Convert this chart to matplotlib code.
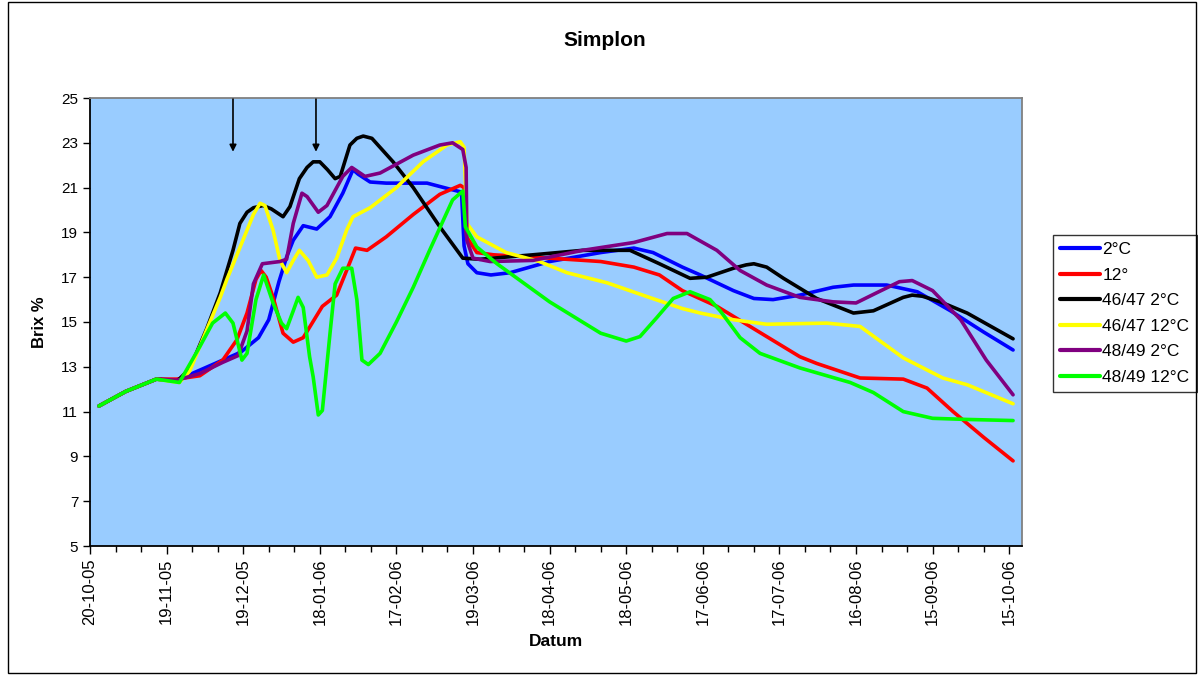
import numpy as np
import matplotlib
matplotlib.use("Agg")
import matplotlib.pyplot as plt
from matplotlib.ticker import MultipleLocator, FuncFormatter
from matplotlib.patches import Rectangle
import datetime as dt

plt.rcParams['font.family'] = ['Liberation Sans', 'DejaVu Sans']

start = dt.date(2005, 10, 20)

# days after 20-10-05, Brix %
blue_d = [3.5, 14, 26, 34, 43, 52, 59, 66, 70, 74, 77, 79.6, 83.5, 88.8, 94, 99, 103, 105, 109.7, 116, 132,
          142, 145.5, 146.5, 148, 151.5, 157, 164.5, 180, 200, 213, 220.5, 232, 239, 252, 260, 267.5, 278,
          291, 299, 312, 324, 337, 350, 361.5]
blue_v = [11.25, 11.9, 12.45, 12.4, 12.85, 13.3, 13.65, 14.3, 15.1, 16.8, 17.9, 18.65, 19.3, 19.15, 19.7,
          20.75, 21.8, 21.6, 21.25, 21.2, 21.2, 20.9, 20.8, 18.4, 17.6, 17.2, 17.1, 17.2, 17.7, 18.1, 18.3,
          18.1, 17.45, 17.1, 16.4, 16.05, 16.0, 16.2, 16.55, 16.65, 16.65, 16.35, 15.5, 14.55, 13.75]

red_d = [3.5, 14, 26, 34, 43, 52, 57.5, 61.5, 65, 67, 69, 71.7, 75.6, 79.6, 83.5, 91, 96.6, 100.5, 104,
         108.5, 116, 126.6, 137, 145, 146.5, 147.5, 151.5, 158, 180, 200, 213, 223, 232, 245.5, 258.5,
         265, 278, 284.6, 301.6, 318.5, 327.8, 338, 350, 361.5]
red_v = [11.25, 11.9, 12.45, 12.45, 12.6, 13.3, 14.2, 15.4, 16.9, 17.3, 17.0, 16.1, 14.5, 14.1, 14.3, 15.7,
         16.2, 17.3, 18.3, 18.2, 18.8, 19.8, 20.7, 21.1, 21.0, 18.8, 18.1, 18.0, 17.85, 17.7, 17.45, 17.1,
         16.4, 15.7, 14.8, 14.35, 13.45, 13.15, 12.5, 12.45, 12.05, 11.0, 9.85, 8.8]

black_d = [3.5, 14, 26, 34, 39, 45.7, 51, 56, 58.7, 61.5, 64, 67.8, 71, 75.6, 78.3, 82, 85, 87.4, 90, 93,
           96, 98, 101.8, 104.5, 107, 110.4, 118.7, 126.6, 137, 146, 152.7, 173.5, 193, 211.5, 223, 235,
           241.6, 252, 257, 260, 265, 271.6, 284.6, 299, 306.8, 318.5, 322, 326, 333, 343.5, 361.5]
black_v = [11.25, 11.9, 12.45, 12.35, 12.9, 14.7, 16.3, 18.2, 19.4, 19.9, 20.1, 20.2, 20.05, 19.7, 20.15,
           21.4, 21.9, 22.15, 22.15, 21.8, 21.4, 21.5, 22.9, 23.2, 23.3, 23.2, 22.15, 21.0, 19.25, 17.85,
           17.8, 18.0, 18.2, 18.2, 17.6, 16.95, 17.0, 17.4, 17.55, 17.6, 17.45, 16.95, 16.05, 15.4, 15.5,
           16.1, 16.2, 16.15, 15.9, 15.4, 14.25]

yellow_d = [3.5, 14, 26, 35, 39, 45.7, 51, 53.6, 61.5, 64, 66.6, 68.5, 71.7, 74.4, 77, 79.6, 82, 85.4,
            88.8, 92.8, 96.6, 100.5, 103, 109.7, 120, 130.4, 139.8, 145, 146.5, 147.6, 151.5, 163, 176,
            186.8, 202.5, 219, 232, 239, 252, 265, 288.6, 301.6, 318.5, 334, 343.5, 361.5]
yellow_v = [11.25, 11.9, 12.45, 12.3, 12.8, 14.65, 16.1, 16.9, 19.1, 19.8, 20.3, 20.2, 19.1, 17.75, 17.2,
            17.75, 18.2, 17.75, 17.0, 17.1, 17.85, 19.1, 19.7, 20.1, 21.0, 22.15, 22.9, 23.05, 22.8, 19.4,
            18.8, 18.1, 17.7, 17.2, 16.75, 16.1, 15.6, 15.4, 15.1, 14.9, 14.95, 14.8, 13.4, 12.5, 12.2, 11.35]

purple_d = [3.5, 14, 26, 34, 43, 52, 58, 61.5, 64, 67.5, 74.4, 77, 79.6, 83, 85, 89.4, 92.8, 99, 102.5,
            107.7, 113.6, 126.6, 137, 142, 146, 147.3, 147.6, 150, 156.7, 173.5, 193, 213, 226, 233.8,
            245.5, 254.6, 265, 278, 291, 300, 308, 317, 322, 330, 341, 351, 361.5]
purple_v = [11.25, 11.9, 12.45, 12.4, 12.7, 13.2, 13.5, 14.6, 16.7, 17.6, 17.7, 17.8, 19.4, 20.75, 20.6,
            19.9, 20.2, 21.5, 21.9, 21.5, 21.65, 22.45, 22.9, 23.0, 22.7, 21.9, 18.65, 17.85, 17.7, 17.75,
            18.2, 18.55, 18.95, 18.95, 18.2, 17.3, 16.65, 16.1, 15.9, 15.85, 16.3, 16.8, 16.85, 16.4, 15.1,
            13.3, 11.75]

green_d = [3.5, 14, 26, 35, 43, 48, 53, 56, 59.5, 61.5, 65, 68, 71.7, 75, 77, 79.6, 81.5, 83.5, 86, 87.4,
           89.4, 91, 94, 96, 99, 102.5, 104.5, 106.5, 109, 113.6, 120, 126.6, 133, 142, 146, 147, 151.5,
           159.4, 169.7, 180, 200, 210, 215.4, 222, 228.4, 235, 242.8, 246.8, 254.6, 262.4, 278, 297.7,
           306.8, 318.5, 330, 343.5, 361.5]
green_v = [11.25, 11.9, 12.45, 12.3, 13.9, 14.95, 15.4, 14.95, 13.3, 13.6, 16.0, 17.1, 15.85, 14.95, 14.7,
           15.5, 16.1, 15.65, 13.45, 12.55, 10.85, 11.05, 14.5, 16.7, 17.4, 17.4, 16.0, 13.3, 13.1, 13.6,
           15.0, 16.55, 18.2, 20.45, 20.85, 19.25, 18.35, 17.6, 16.75, 15.9, 14.5, 14.15, 14.35, 15.2,
           16.05, 16.35, 16.0, 15.5, 14.3, 13.6, 12.95, 12.3, 11.85, 11.0, 10.7, 10.65, 10.6]

series = [
    (blue_d, blue_v, "2°C", "#0000FF"),
    (red_d, red_v, "12°", "#FF0000"),
    (black_d, black_v, "46/47 2°C", "#000000"),
    (yellow_d, yellow_v, "46/47 12°C", "#FFFF00"),
    (purple_d, purple_v, "48/49 2°C", "#800080"),
    (green_d, green_v, "48/49 12°C", "#00FF00"),
]

arrow_days = [56, 88.5]

fig = plt.figure(figsize=(11.98, 6.75), dpi=100)
ax = fig.add_axes([90 / 1198, 1 - 546 / 675, (1022 - 90) / 1198, (546 - 98) / 675])
ax.set_facecolor("#99CCFF")

for d, v, lab, col in series:
    ax.plot(d, v, color=col, lw=2.6, label=lab, solid_joinstyle="round", solid_capstyle="round")

for a in arrow_days:
    ax.annotate("", xy=(a, 22.6), xytext=(a, 24.95),
                arrowprops=dict(arrowstyle="-|>", color="black", lw=1.2, mutation_scale=10,
                                shrinkA=0, shrinkB=0))

ax.set_xlim(0, 365)
ax.set_ylim(5, 25)
ax.set_yticks(np.arange(5, 26, 2))
ax.xaxis.set_minor_locator(MultipleLocator(10))
ax.xaxis.set_major_formatter(FuncFormatter(
    lambda x, p: (start + dt.timedelta(days=int(round(x)))).strftime("%d-%m-%y")))
ax.set_xticks(np.arange(0, 361, 30))

ax.tick_params(axis="x", which="major", direction="out", length=6, width=1, labelsize=12,
               labelrotation=90, pad=3)
ax.tick_params(axis="x", which="minor", direction="out", length=4, width=1)
ax.tick_params(axis="y", direction="out", length=5, width=1, labelsize=11)

for s in ["left", "bottom"]:
    ax.spines[s].set_color("black")
    ax.spines[s].set_linewidth(1.3)
for s in ["top", "right"]:
    ax.spines[s].set_color("#808080")
    ax.spines[s].set_linewidth(1.3)

ax.set_ylabel("Brix %", fontsize=12, fontweight="bold", labelpad=10)
ax.set_xlabel("Datum", fontsize=12.5, fontweight="bold", labelpad=6)
fig.text(605 / 1198, 1 - 40 / 675, "Simplon", fontsize=15, fontweight="bold", ha="center", va="center")

leg = ax.legend(loc="upper left", bbox_to_anchor=(1053 / 1198, 1 - 235 / 675),
                bbox_transform=fig.transFigure, fontsize=12.5, frameon=True, fancybox=False,
                edgecolor="black", handlelength=2.3, handletextpad=0.15, labelspacing=0.6,
                borderpad=0.4, borderaxespad=0)
leg.get_frame().set_linewidth(1)
for ln in leg.get_lines():
    ln.set_linewidth(3)

fig.patches.append(Rectangle((8 / 1198, 2 / 675), 1188 / 1198, 671 / 675, transform=fig.transFigure,
                             fill=False, edgecolor="black", lw=1))

fig.savefig("out.png", dpi=100)
